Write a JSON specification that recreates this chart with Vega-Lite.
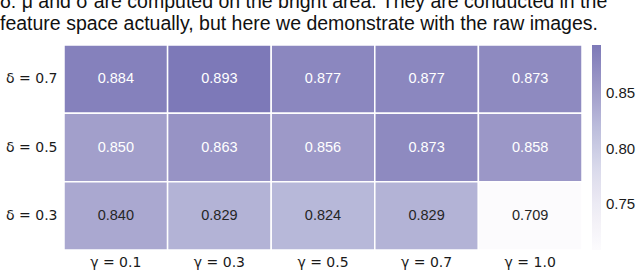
{
  "$schema": "https://vega.github.io/schema/vega-lite/v6.json",
  "autosize": "none",
  "width": 518,
  "height": 205,
  "padding": {"left": 64, "top": 45, "right": 58, "bottom": 23},
  "background": "white",
  "title": {
    "text": ["δ: μ and σ are computed on the bright area. They are conducted in the", "feature space actually, but here we demonstrate with the raw images."],
    "anchor": "start",
    "frame": "group",
    "dx": -64,
    "dy": 22,
    "offset": 17,
    "baseline": "alphabetic",
    "font": "Liberation Sans",
    "fontSize": 19.5,
    "fontWeight": "normal",
    "color": "#111111",
    "lineHeight": 22
  },
  "data": {
    "values": [
      {"gamma": "γ = 0.1", "delta": "δ = 0.7", "value": 0.884},
      {"gamma": "γ = 0.3", "delta": "δ = 0.7", "value": 0.893},
      {"gamma": "γ = 0.5", "delta": "δ = 0.7", "value": 0.877},
      {"gamma": "γ = 0.7", "delta": "δ = 0.7", "value": 0.877},
      {"gamma": "γ = 1.0", "delta": "δ = 0.7", "value": 0.873},
      {"gamma": "γ = 0.1", "delta": "δ = 0.5", "value": 0.850},
      {"gamma": "γ = 0.3", "delta": "δ = 0.5", "value": 0.863},
      {"gamma": "γ = 0.5", "delta": "δ = 0.5", "value": 0.856},
      {"gamma": "γ = 0.7", "delta": "δ = 0.5", "value": 0.873},
      {"gamma": "γ = 1.0", "delta": "δ = 0.5", "value": 0.858},
      {"gamma": "γ = 0.1", "delta": "δ = 0.3", "value": 0.840},
      {"gamma": "γ = 0.3", "delta": "δ = 0.3", "value": 0.829},
      {"gamma": "γ = 0.5", "delta": "δ = 0.3", "value": 0.824},
      {"gamma": "γ = 0.7", "delta": "δ = 0.3", "value": 0.829},
      {"gamma": "γ = 1.0", "delta": "δ = 0.3", "value": 0.709}
    ]
  },
  "encoding": {
    "x": {
      "field": "gamma",
      "type": "ordinal",
      "sort": ["γ = 0.1", "γ = 0.3", "γ = 0.5", "γ = 0.7", "γ = 1.0"],
      "scale": {"paddingInner": 0, "paddingOuter": 0},
      "axis": {"title": null, "labelAngle": 0, "ticks": false, "domain": false, "labelPadding": 5, "labelFont": "DejaVu Sans", "labelFontSize": 14, "labelColor": "#1a1a1a"}
    },
    "y": {
      "field": "delta",
      "type": "ordinal",
      "sort": ["δ = 0.7", "δ = 0.5", "δ = 0.3"],
      "scale": {"paddingInner": 0, "paddingOuter": 0},
      "axis": {"title": null, "ticks": false, "domain": false, "labelPadding": 7, "labelFont": "DejaVu Sans", "labelFontSize": 14, "labelColor": "#1a1a1a"}
    }
  },
  "layer": [
    {
      "mark": {"type": "rect", "stroke": "white", "strokeWidth": 1.5},
      "encoding": {
        "color": {
          "field": "value",
          "type": "quantitative",
          "scale": {
            "domain": [0.709, 0.7455, 0.782, 0.8185, 0.855, 0.893],
            "range": ["#fcfbfd", "#efedf5", "#dadaeb", "#bcbddc", "#9e9ac8", "#7d79b8"],
            "interpolate": "rgb"
          },
          "legend": {
            "title": null,
            "direction": "vertical",
            "gradientLength": 205,
            "gradientThickness": 9,
            "gradientStrokeWidth": 0,
            "values": [0.75, 0.8, 0.85],
            "format": ".2f",
            "labelFont": "Liberation Sans",
            "labelFontSize": 15,
            "labelColor": "#1a1a1a",
            "labelOffset": 5,
            "offset": 10
          }
        }
      }
    },
    {
      "mark": {"type": "text", "font": "Liberation Sans", "fontSize": 14.5},
      "encoding": {
        "text": {"field": "value", "type": "quantitative", "format": ".3f"},
        "color": {"condition": {"test": "datum.value > 0.845", "value": "white"}, "value": "#262626"}
      }
    }
  ],
  "config": {"view": {"stroke": null}}
}
